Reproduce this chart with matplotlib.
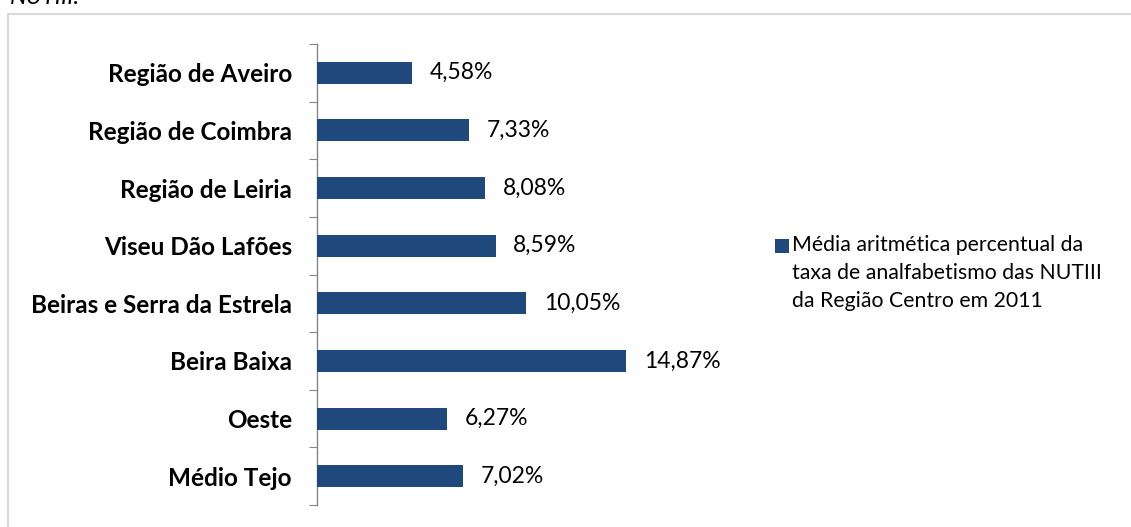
import matplotlib
matplotlib.use("Agg")
import matplotlib.pyplot as plt
from matplotlib.patches import Rectangle
import numpy as np

categories = ["Região de Aveiro", "Região de Coimbra", "Região de Leiria", "Viseu Dão Lafões",
              "Beiras e Serra da Estrela", "Beira Baixa", "Oeste", "Médio Tejo"]
values = [4.58, 7.33, 8.08, 8.59, 10.05, 14.87, 6.27, 7.02]
value_labels = ["4,58%", "7,33%", "8,08%", "8,59%", "10,05%", "14,87%", "6,27%", "7,02%"]
legend_label = "Média aritmética percentual da\ntaxa de analfabetismo das NUTIII\nda Região Centro em 2011"

plt.rcParams['font.family'] = ['Lato', 'DejaVu Sans']

W, H = 1131, 527
fig = plt.figure(figsize=(W / 100, H / 100), dpi=100)
fig.patch.set_facecolor('white')

# outer chart frame (only top/left visible)
fig.patches.append(Rectangle((8 / W, -0.1), 1.2, (H - 14) / H + 0.1, transform=fig.transFigure,
                             fill=False, edgecolor='#d9d9d9', linewidth=1.5))
fig.text(10 / W, (H - 4) / H, "NUTIII.", fontsize=17, style='italic', ha='left', va='baseline', color='black')

left, top, bottom = 317, 44, 505
px_per_unit = 20.8
xmax = 20
ax = fig.add_axes([left / W, (H - bottom) / H, xmax * px_per_unit / W, (bottom - top) / H])

n = len(categories)
ypos = np.arange(n)
bar_color = '#1F497D'
ax.barh(ypos, values, height=0.38, color=bar_color, zorder=3)
ax.set_ylim(n - 0.5, -0.5)
ax.set_xlim(0, xmax)

for y, v, lab in zip(ypos, values, value_labels):
    ax.text(v + 0.85, y, lab, va='center', ha='left', fontsize=16.5, color='black')

for s in ['top', 'right', 'bottom']:
    ax.spines[s].set_visible(False)
ax.spines['left'].set_color('#868686')
ax.spines['left'].set_linewidth(1)
ax.set_xticks([])
ax.set_yticks(np.arange(-0.5, n, 1.0))
ax.set_yticklabels([])
ax.tick_params(axis='y', which='major', length=6, color='#868686', direction='out')
ax.set_yticks(ypos, minor=True)
ax.set_yticklabels(categories, minor=True, fontsize=17.5, fontweight='bold')
ax.tick_params(axis='y', which='minor', length=0, pad=18)

# legend
fig.patches.append(Rectangle((775 / W, (H - 253) / H), 14 / W, 14 / H, transform=fig.transFigure,
                             facecolor=bar_color, edgecolor='none'))
fig.text(792 / W, (H - 235) / H, legend_label, fontsize=15.3, ha='left', va='top',
         linespacing=1.5, color='black')

fig.savefig("out.png", dpi=100, facecolor='white')
